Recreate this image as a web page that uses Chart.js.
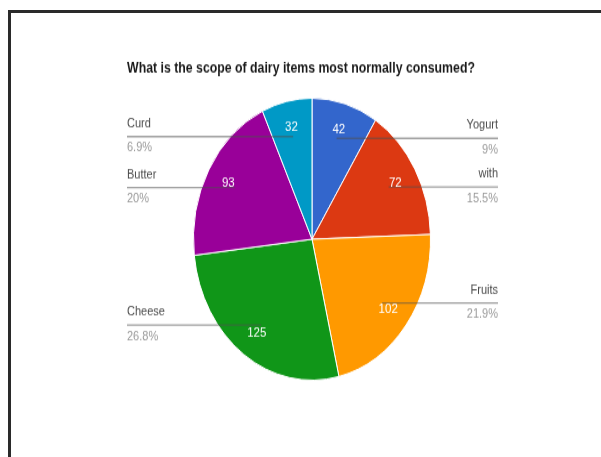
<!DOCTYPE html>
<html>
<head>
<meta charset="utf-8">
<script src="https://cdn.jsdelivr.net/npm/chart.js@4.4.0/dist/chart.umd.min.js"></script>
<style>
  html, body { margin: 0; padding: 0; background: #fff; overflow: hidden; }
  body { width: 601px; height: 457px; position: relative; }
  /* cadre du document */
  #frame {
    position: absolute; left: 8px; top: 10px; right: 0; bottom: 0;
    border-top: 3px solid #2a2a2a; border-left: 3px solid #2a2a2a;
  }
  /* le graphique est étiré verticalement */
  #wrap {
    position: absolute; left: 0; top: 0; width: 601px; height: 384px;
    transform: scaleY(1.19); transform-origin: 0 0;
  }
</style>
</head>
<body>
<div id="frame"></div>
<div id="wrap"><canvas id="dairy-pie" width="601" height="384"></canvas></div>
<script>
// Données du sondage
const chartTitle = 'What is the scope of dairy items most normally consumed?';
const labels = ['Yogurt', 'with', 'Fruits', 'Cheese', 'Butter', 'Curd'];
const counts = [42, 72, 102, 125, 93, 32];
const sliceColors = ['#3366cc', '#dc3912', '#ff9900', '#109618', '#990099', '#0099c6'];

const FONT = '"Liberation Sans", Arial, sans-serif';

function pctText(v, total) {
    let p = (v / total * 100).toFixed(1);
    if (p.endsWith('.0')) p = p.slice(0, -2);
    return p + '%';
}

// Titre, étiquettes latérales, traits et valeurs dans les parts
const pieLabels = {
    id: 'pieLabels',
    afterDatasetsDraw(chart) {
        const ctx = chart.ctx;
        const meta = chart.getDatasetMeta(0);
        const total = counts.reduce((a, b) => a + b, 0);

        ctx.save();
        ctx.font = 'bold 12.3px ' + FONT;
        ctx.fillStyle = '#1a1a1a';
        ctx.textAlign = 'center';
        ctx.textBaseline = 'middle';
        ctx.fillText(chartTitle, 301, 57.5);

        meta.data.forEach((arc, i) => {
            const mid = (arc.startAngle + arc.endAngle) / 2;
            const r = arc.outerRadius;
            const lx = arc.x + Math.cos(mid) * r * 0.745;
            const ly = arc.y + Math.sin(mid) * r * 0.745;
            const left = Math.cos(mid) < 0;
            const colX = left ? 127 : 498;

            // trait de rappel
            ctx.strokeStyle = 'rgba(80, 80, 80, 0.55)';
            ctx.lineWidth = 1.3;
            ctx.beginPath();
            ctx.moveTo(colX, ly);
            ctx.lineTo(lx, ly);
            ctx.stroke();

            // nom + pourcentage
            ctx.textAlign = left ? 'left' : 'right';
            ctx.font = '11px ' + FONT;
            ctx.fillStyle = '#4a4a4a';
            ctx.fillText(labels[i], colX, ly - 11);
            ctx.fillStyle = '#9a9a9a';
            ctx.fillText(pctText(counts[i], total), colX, ly + 9.5);

            // valeur dans la part
            const vx = arc.x + Math.cos(mid) * r * 0.81;
            const vy = arc.y + Math.sin(mid) * r * 0.81;
            ctx.textAlign = 'center';
            ctx.font = '11.5px ' + FONT;
            ctx.fillStyle = '#fff';
            ctx.fillText(String(counts[i]), vx, vy);
        });
        ctx.restore();
    }
};

new Chart(document.getElementById('dairy-pie'), {
    type: 'pie',
    data: {
        labels: labels,
        datasets: [{
            data: counts,
            backgroundColor: sliceColors,
            borderColor: '#fff',
            borderWidth: 1
        }]
    },
    options: {
        responsive: false,
        animation: false,
        layout: { padding: { top: 82, bottom: 64, left: 193, right: 170 } },
        plugins: {
            legend: { display: false },
            tooltip: { enabled: false },
            title: { display: false }
        }
    },
    plugins: [pieLabels]
});
</script>
</body>
</html>
